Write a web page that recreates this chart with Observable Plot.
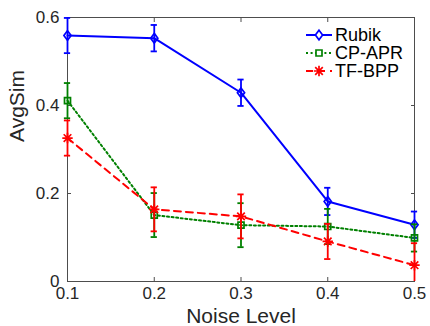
<!DOCTYPE html>
<html><head><meta charset="utf-8">
<script src="https://cdn.jsdelivr.net/npm/d3@7"></script>
<script src="https://cdn.jsdelivr.net/npm/@observablehq/plot@0.6"></script>
<style>body{margin:0;background:#fff}#chart{width:430px;height:326px}</style>
</head><body><div id="chart"></div>
<script>
const noise = [0.1, 0.2, 0.3, 0.4, 0.5];
const seriesNames = ["Rubik", "CP-APR", "TF-BPP"];
const rubik = [0.559, 0.553, 0.429, 0.182, 0.129];
const rubikErr = [0.04, 0.03, 0.03, 0.031, 0.03];
const cpapr = [0.411, 0.151, 0.128, 0.125, 0.099];
const cpaprErr = [0.04, 0.05, 0.05, 0.04, 0.031];
const tfbpp = [0.326, 0.164, 0.148, 0.091, 0.037];
const tfbppErr = [0.04, 0.05, 0.05, 0.04, 0.05];
const xTicks = [0.1, 0.2, 0.3, 0.4, 0.5];
const yTicks = [0, 0.2, 0.4, 0.6];
const xLabel = "Noise Level";
const yLabel = "AvgSim";

const colors = ["#0000ff", "#008000", "#ff0000"];
const dashes = [null, "2,2.6", "7,5"];

const diamond = {draw(c) { c.moveTo(0, -4.8); c.lineTo(3.6, 0); c.lineTo(0, 4.8); c.lineTo(-3.6, 0); c.closePath(); }};
const square = {draw(c) { c.moveTo(-3, -3); c.lineTo(3, -3); c.lineTo(3, 3); c.lineTo(-3, 3); c.closePath(); }};
const star = {draw(c) {
  const r = 5.2, d = 3.8;
  c.moveTo(-r, 0); c.lineTo(r, 0); c.moveTo(0, -r); c.lineTo(0, r);
  c.moveTo(-d, -d); c.lineTo(d, d); c.moveTo(-d, d); c.lineTo(d, -d);
}};
const symbols = [diamond, square, star];

const values = [rubik, cpapr, tfbpp];
const errs = [rubikErr, cpaprErr, tfbppErr];
const capHalf = 0.0036;

const marks = [];
values.forEach((vals, i) => {
  const rows = noise.map((x, j) => ({x, y: vals[j], e: errs[i][j], s: seriesNames[i]}));
  const col = colors[i];
  marks.push(
    Plot.ruleX(rows, {x: "x", y1: d => Math.max(0, d.y - d.e), y2: d => d.y + d.e, stroke: col, strokeWidth: 1.8}),
    Plot.ruleY(rows, {y: d => d.y + d.e, x1: d => d.x - capHalf, x2: d => d.x + capHalf, stroke: col, strokeWidth: 1.8}),
    Plot.ruleY(rows.filter(d => d.y - d.e >= 0), {y: d => d.y - d.e, x1: d => d.x - capHalf, x2: d => d.x + capHalf, stroke: col, strokeWidth: 1.8}),
    Plot.line(rows, {x: "x", y: "y", stroke: col, strokeWidth: 2, strokeDasharray: dashes[i]}),
    Plot.dot(rows, {x: "x", y: "y", symbol: symbols[i], stroke: col, fill: "none", strokeWidth: 1.7})
  );
});

const axisColor = "#262626";
const chart = Plot.plot({
  width: 430, height: 326,
  marginLeft: 67, marginRight: 16, marginTop: 17, marginBottom: 45,
  style: {fontFamily: "'Liberation Sans', Arial, sans-serif", color: axisColor, background: "#fff"},
  x: {domain: [0.1, 0.5]},
  y: {domain: [0, 0.6]},
  marks: [
    Plot.frame({stroke: "#4d4d4d", strokeWidth: 1}),
    Plot.axisX({ticks: xTicks, tickSize: 4, insetBottom: 4, tickFormat: () => "", label: null, stroke: "#4d4d4d"}),
    Plot.axisX({anchor: "top", ticks: xTicks, tickSize: 4, insetTop: 4, tickFormat: () => "", label: null, stroke: "#4d4d4d"}),
    Plot.axisY({ticks: yTicks, tickSize: 4, insetLeft: 4, tickFormat: () => "", label: null, stroke: "#4d4d4d"}),
    Plot.axisY({anchor: "right", ticks: yTicks, tickSize: 4, insetRight: 4, tickFormat: () => "", label: null, stroke: "#4d4d4d"}),
    Plot.axisX({ticks: xTicks, tickSize: 0, tickPadding: 5, tickFormat: d => d.toFixed(1), label: null, fontSize: 17, fill: axisColor}),
    Plot.axisY({ticks: yTicks, tickSize: 0, tickPadding: 8, tickFormat: d => d === 0 ? "0" : d.toFixed(1), label: null, fontSize: 17, fill: axisColor}),
    Plot.text([xLabel], {text: d => d, frameAnchor: "bottom", dy: 35, lineAnchor: "middle", fontSize: 21, fill: axisColor}),
    Plot.text([yLabel], {text: d => d, frameAnchor: "left", dx: -50, dy: -7.5, rotate: -90, lineAnchor: "middle", fontSize: 21, fill: axisColor}),
    ...marks
  ]
});
document.getElementById("chart").appendChild(chart);

// Legend (top-right, inside the axes, no box)
const svg = d3.select(chart);
const lg = svg.append("g").attr("font-family", "'Liberation Sans', Arial, sans-serif").attr("font-size", 18).attr("text-anchor", "start");
seriesNames.forEach((name, i) => {
  const y = 35 + i * 18;
  const g = lg.append("g").attr("transform", `translate(0,${y})`);
  g.append("line").attr("x1", 306).attr("x2", 332).attr("y1", 0).attr("y2", 0)
    .attr("stroke", colors[i]).attr("stroke-width", 2).attr("stroke-dasharray", dashes[i]);
  const p = d3.path(); symbols[i].draw(p);
  g.append("path").attr("d", p.toString()).attr("transform", "translate(319,0)")
    .attr("fill", "#fff").attr("stroke", colors[i]).attr("stroke-width", 1.7);
  g.append("text").attr("x", 335).attr("y", 0).attr("dy", "0.35em").attr("text-anchor", "start").attr("fill", "#000").text(name);
});
</script></body></html>
